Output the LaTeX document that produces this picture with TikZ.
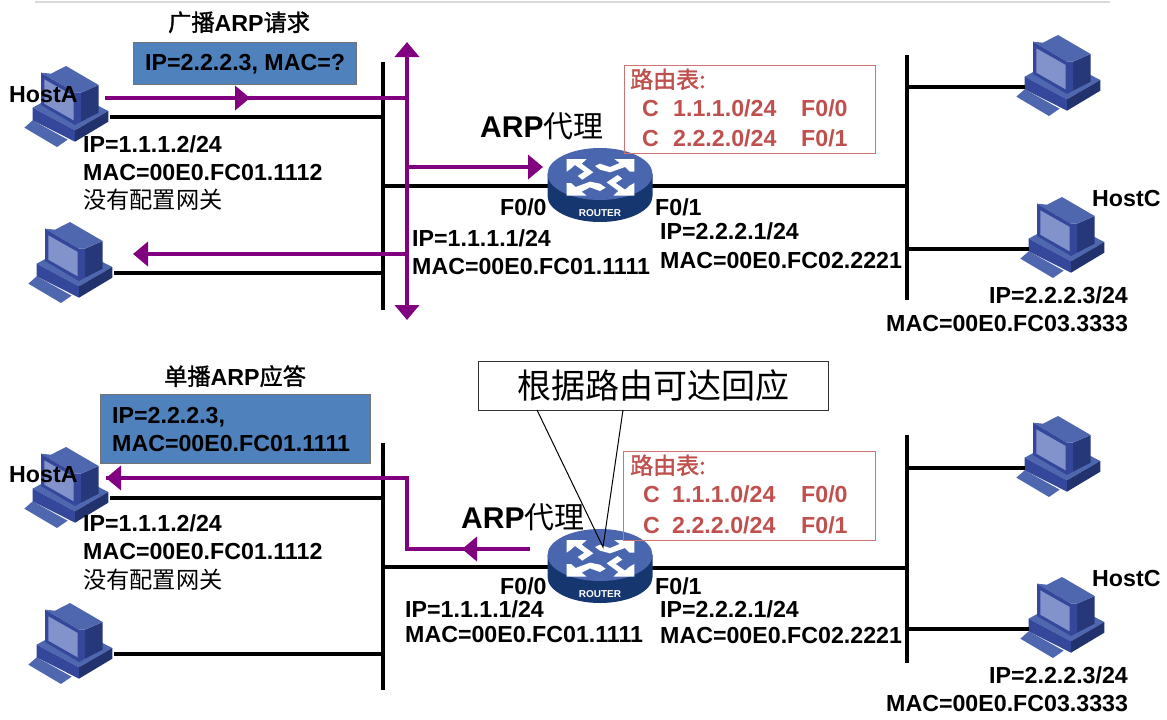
\documentclass[tikz,border=0pt]{standalone}
\usepackage{fontspec}
\setmainfont{Liberation Sans}
\newfontfamily\cjk{Noto Sans CJK SC}
\newfontfamily\cjkb[FakeBold=1.5]{Noto Sans CJK SC}
\usetikzlibrary{arrows.meta}
\definecolor{pur}{HTML}{800080}
\definecolor{bluebox}{HTML}{4F81BD}
\definecolor{redtxt}{HTML}{C0504D}
\definecolor{pclight}{HTML}{4F67AF}
\definecolor{pcmid}{HTML}{34479A}
\definecolor{pcdark}{HTML}{26387A}
\definecolor{pcscreen}{HTML}{8293CC}
\definecolor{rtop}{HTML}{4A66AE}
\definecolor{rside}{HTML}{16366F}
\tikzset{
 x=1pt,y=-1pt,
 lab/.style={anchor=west,inner sep=0pt,text height=16pt,text depth=0pt,font=\fontsize{23.2}{24}\selectfont\bfseries},
 cjklab/.style={lab,font=\fontsize{23.2}{24}\selectfont\cjk},
 big/.style={anchor=west,inner sep=0pt,text height=21pt,text depth=0pt,font=\fontsize{30}{32}\selectfont\bfseries},
 redlab/.style={lab,text=redtxt},
 wire/.style={draw=black,line width=3.5pt},
 bus/.style={draw=black,line width=4pt},
 flow/.style={draw=pur,line width=4pt,-{Triangle[length=15pt,width=24pt]}},
 flowplain/.style={draw=pur,line width=4pt},
 flowboth/.style={draw=pur,line width=4pt,{Triangle[length=15pt,width=24pt]}-{Triangle[length=15pt,width=24pt]}},
 bluerect/.style={fill=bluebox,draw=black!55,line width=1pt},
 redrect/.style={draw=redtxt!80,line width=1pt},
 hostpc/.pic={
  \coordinate (-e) at (44,11);
  \coordinate (-w) at (-33,12);
  \begin{scope}[x=.3333pt,y=-.3333pt,shift={(-235,-135)}]
   \fill[pclight] (110,200)--(135,178)--(240,236)--(208,258)--cycle;
   \fill[pclight] (135,140)--(262,208)--(362,150)--(235,85)--cycle;
   \fill[pcmid] (135,140)--(262,208)--(262,242)--(135,178)--cycle;
   \fill[pcdark!90!black] (262,208)--(362,150)--(362,182)--(262,242)--cycle;
   \fill[pcdark] (280,95)--(333,72)--(333,155)--(280,182)--cycle;
   \fill[pclight] (160,35)--(190,38)--(235,15)--(333,72)--(280,95)--(262,95)--cycle;
   \fill[pcmid] (160,35)--(262,95)--(280,95)--(280,182)--(262,192)--(160,132)--cycle;
   \fill[pcscreen] (170,55)--(258,105)--(258,178)--(170,128)--cycle;
  \end{scope}
 },
 routerpc/.pic={
  \fill[rside] (-52.5,0) -- (-52.5,22) arc[start angle=180,end angle=0,x radius=52.5,y radius=26] -- (52.5,0) -- cycle;
  \fill[rtop] (0,0) ellipse[x radius=52.5,y radius=26];
  \begin{scope}[x=.3333pt,y=-.3333pt,shift={(-165,-87)},white]
   \fill (65,42)--(125,42)--(110,56)--(145,82)--(112,104)--(98,93)--(118,80)--(90,60)--(76,72)--(65,80)--cycle;
   \fill (268,152)--(205,152)--(220,138)--(185,112)--(218,90)--(232,101)--(212,114)--(240,134)--(254,122)--(268,114)--cycle;
   \fill (268,42)--(208,42)--(224,54)--(195,66)--(165,56)--(150,63)--(165,74)--(195,82)--(240,66)--(254,80)--(268,80)--cycle;
   \fill (65,152)--(125,152)--(110,140)--(135,127)--(165,138)--(182,128)--(165,116)--(135,110)--(92,126)--(78,114)--(65,114)--cycle;
  \end{scope}
  \node[white,inner sep=0pt,font=\fontsize{10}{11}\selectfont\bfseries] at (0,39) {ROUTER};
 }
}
\begin{document}
\begin{tikzpicture}
\useasboundingbox (0,0) rectangle (1167,720);
\coordinate (rulea) at (35,1.5);
\coordinate (ruleb) at (1110,1.5);
\draw[black!15,line width=2pt] (rulea)--(ruleb);

%%% TOP
\coordinate (b1t) at (383,62);
\coordinate (b1b) at (383,310);
\coordinate (b2t) at (907,55);
\coordinate (b2b) at (907,300);
\draw[bus] (b1t)--(b1b);
\draw[bus] (b2t)--(b2b);

\pic (hA) at (66,106) {hostpc};
\pic (hB) at (70,262) {hostpc};
\pic (hD) at (1058,75) {hostpc};
\pic (hC) at (1062,237) {hostpc};

\draw[wire] (hA-e)--(hA-e -| b1t);
\draw[wire] (hB-e)--(hB-e -| b1t);
\draw[wire] (hD-w)--(hD-w -| b2t);
\draw[wire] (hC-w)--(hC-w -| b2t);
\coordinate (r1l) at (552,186);
\coordinate (r1r) at (648,186);
\draw[wire] (r1l)--(r1l -| b1t);
\draw[wire] (r1r)--(r1r -| b2t);
\pic (r1) at (600,174) {routerpc};

\node[bluerect,minimum width=223pt,minimum height=42pt,inner sep=0pt] (req) at (244.5,63) {};
\node[lab] (reqt) at (145,62) {IP=2.2.2.3, MAC=?};
\node[lab] (tit1) at (168,23) {{\mdseries\cjkb 广播}ARP{\mdseries\cjkb 请求}};

\coordinate (p1a) at (105,98);
\coordinate (p1m) at (250,98);
\coordinate (v1t) at (407,42);
\coordinate (v1b) at (407,320);
\draw[flowplain] (p1a)--(p1a -| v1t);
\draw[flow] (p1a)--(p1m);
\draw[flowboth] (v1t)--(v1b);
\coordinate (p2a) at (407,167);
\coordinate (p2b) at (543,167);
\draw[flow] (p2a)--(p2b);
\coordinate (p3a) at (407,254);
\coordinate (p3b) at (133,254);
\draw[flow] (p3a)--(p3b);

\node[lab] (hAl) at (9,94) {HostA};
\node[lab] (a1) at (83,144) {IP=1.1.1.2/24};
\node[lab] (a2) at (83,172) {MAC=00E0.FC01.1112};
\node[cjklab] (a3) at (83,200) {没有配置网关};
\node[big] (arp1) at (480,127) {ARP{\cjk\mdseries 代理}};
\node[lab] (f00) at (500,207) {F0/0};
\node[lab] (f01) at (655,207) {F0/1};
\node[lab] (i1) at (412,238) {IP=1.1.1.1/24};
\node[lab] (m1) at (412,266) {MAC=00E0.FC01.1111};
\node[lab] (i2) at (660,231) {IP=2.2.2.1/24};
\node[lab] (m2) at (660,260) {MAC=00E0.FC02.2221};
\node[lab] (hCl) at (1092,198) {HostC};
\node[lab] (i3) at (989,295) {IP=2.2.2.3/24};
\node[lab] (m3) at (886,323) {MAC=00E0.FC03.3333};

\node[redrect,minimum width=251pt,minimum height=88pt,inner sep=0pt] (rt1) at (749.5,109) {};
\node[redlab,font=\fontsize{23}{24}\selectfont\cjkb] (rt1h) at (630,80) {路由表:};
\node[redlab] (rt1a) at (642,108) {C};
\node[redlab] (rt1b) at (673,108) {1.1.1.0/24};
\node[redlab] (rt1c) at (801,108) {F0/0};
\node[redlab] (rt1d) at (642,138) {C};
\node[redlab] (rt1e) at (673,138) {2.2.2.0/24};
\node[redlab] (rt1f) at (801,138) {F0/1};

%%% BOTTOM
\coordinate (b3t) at (383,443);
\coordinate (b3b) at (383,690);
\coordinate (b4t) at (907,435);
\coordinate (b4b) at (907,663);
\draw[bus] (b3t)--(b3b);
\draw[bus] (b4t)--(b4b);

\pic (hE) at (66,487) {hostpc};
\pic (hF) at (70,643) {hostpc};
\pic (hG) at (1058,456) {hostpc};
\pic (hH) at (1062,617) {hostpc};

\draw[wire] (hE-e)--(hE-e -| b3t);
\draw[wire] (hF-e)--(hF-e -| b3t);
\draw[wire] (hG-w)--(hG-w -| b4t);
\draw[wire] (hH-w)--(hH-w -| b4t);
\coordinate (r2l) at (552,567);
\coordinate (r2r) at (648,568);
\draw[wire] (r2l)--(r2l -| b3t);
\draw[wire] (r2r)--(r2r -| b4t);
\pic (r2) at (600,555) {routerpc};

\node[bluerect,minimum width=270pt,minimum height=69pt,inner sep=0pt] (rep) at (235,428.5) {};
\node[lab] (rept1) at (112,415) {IP=2.2.2.3,};
\node[lab] (rept2) at (112,443) {MAC=00E0.FC01.1111};
\node[lab] (tit2) at (164,377) {{\mdseries\cjkb 单播}ARP{\mdseries\cjkb 应答}};

\coordinate (q1) at (530,549);
\coordinate (q2) at (462,549);
\coordinate (q3) at (407,549);
\coordinate (q4) at (407,478);
\coordinate (q5) at (106,478);
\draw[flowplain] (q1)--(q3)--(q4)--(q5);
\draw[flow] (q1)--(q2);
\draw[flow] (q4)--(q5);

\node[lab] (hEl) at (9,474) {HostA};
\node[lab] (e1) at (83,523) {IP=1.1.1.2/24};
\node[lab] (e2) at (83,551) {MAC=00E0.FC01.1112};
\node[cjklab] (e3) at (83,580) {没有配置网关};
\node[big] (arp2) at (461,518) {ARP{\cjk\mdseries 代理}};
\node[lab] (g00) at (500,586) {F0/0};
\node[lab] (g01) at (655,586) {F0/1};
\node[lab] (j1) at (405,609) {IP=1.1.1.1/24};
\node[lab] (n1) at (405,634) {MAC=00E0.FC01.1111};
\node[lab] (j2) at (660,609) {IP=2.2.2.1/24};
\node[lab] (n2) at (660,635) {MAC=00E0.FC02.2221};
\node[lab] (hHl) at (1092,578) {HostC};
\node[lab] (j3) at (989,675) {IP=2.2.2.3/24};
\node[lab] (n3) at (886,703) {MAC=00E0.FC03.3333};

\node[redrect,minimum width=252pt,minimum height=89pt,inner sep=0pt] (rt2) at (749,495.5) {};
\node[redlab,font=\fontsize{23}{24}\selectfont\cjkb] (rt2h) at (630,466) {路由表:};
\node[redlab] (rt2a) at (643,494) {C};
\node[redlab] (rt2b) at (672,494) {1.1.1.0/24};
\node[redlab] (rt2c) at (801,494) {F0/0};
\node[redlab] (rt2d) at (643,525) {C};
\node[redlab] (rt2e) at (672,525) {2.2.2.0/24};
\node[redlab] (rt2f) at (801,525) {F0/1};

\coordinate (ptl) at (537,410);
\coordinate (ptr) at (623,410);
\coordinate (pte) at (603,547);
\node[draw=black!80,fill=white,line width=1pt,minimum width=350pt,minimum height=49pt,inner sep=0pt,font=\fontsize{34}{36}\selectfont\cjk] (call) at (653,385.5) {根据路由可达回应};
\draw[black,line width=1pt] (ptl)--(pte)--(ptr);
\end{tikzpicture}
\end{document}
